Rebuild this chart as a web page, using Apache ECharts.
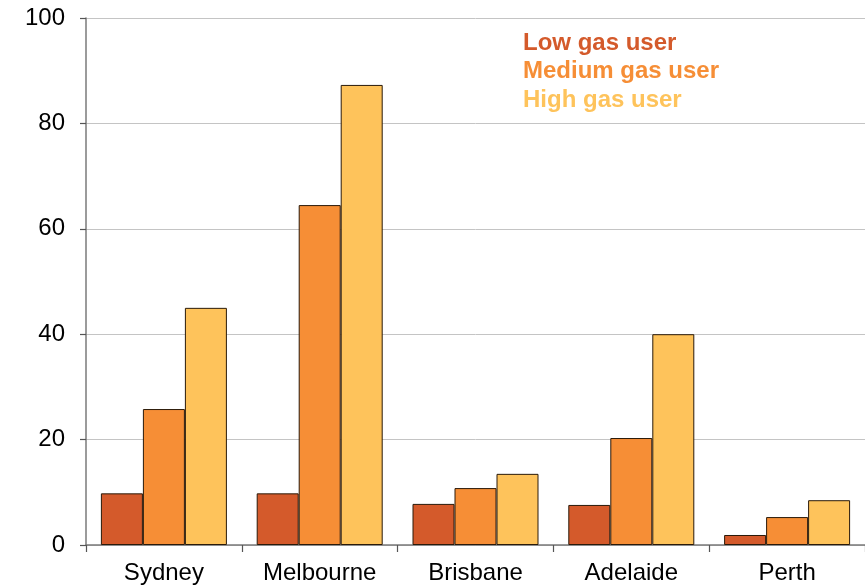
<!DOCTYPE html>
<html>
<head>
<meta charset="utf-8">
<script src="https://cdn.jsdelivr.net/npm/echarts@6/dist/echarts.min.js"></script>
<style>html,body{margin:0;padding:0;background:#fff}#c{width:865px;height:585px}</style>
</head>
<body>
<div id="c"></div>
<script>
const categories = ['Sydney', 'Melbourne', 'Brisbane', 'Adelaide', 'Perth'];
const seriesNames = ['Low gas user', 'Medium gas user', 'High gas user'];
const lowValues = [9.8, 9.8, 7.8, 7.6, 1.9];
const mediumValues = [25.8, 64.5, 10.8, 20.3, 5.3];
const highValues = [45.0, 87.3, 13.5, 40.0, 8.5];
const yTicks = [0, 20, 40, 60, 80, 100];
const colors = ['#D45A2B', '#F68E36', '#FEC35B'];

const chart = echarts.init(document.getElementById('c'));
const values = [lowValues, mediumValues, highValues];
chart.setOption({
  animation: false,
  grid: { left: 86, top: 18, width: 780, height: 527, containLabel: false },
  legend: {
    orient: 'vertical', left: 518, top: 29, icon: 'none', itemWidth: 0, itemHeight: 10, itemGap: 0,
    padding: 0, selectedMode: false,
    data: seriesNames.map((n, i) => ({ name: n, textStyle: { color: colors[i] } })),
    textStyle: { fontFamily: 'Liberation Sans, Arial', fontSize: 24, fontWeight: 'bold', lineHeight: 28.5 }
  },
  xAxis: {
    type: 'category', data: categories,
    axisLine: { lineStyle: { color: '#7a7a7a', width: 1.5 } },
    axisTick: { show: true, alignWithLabel: false, length: 7, lineStyle: { color: '#555', width: 1.2 } },
    axisLabel: { color: '#000', fontFamily: 'Liberation Sans, Arial', fontSize: 24, margin: 16 }
  },
  yAxis: {
    type: 'value', min: 0, max: 100, interval: 20,
    axisLine: { show: true, lineStyle: { color: '#7a7a7a', width: 1.5 } },
    axisTick: { show: true, length: 6, lineStyle: { color: '#555', width: 1.2 } },
    splitLine: { lineStyle: { color: '#c4c4c4', width: 1 } },
    axisLabel: { color: '#000', fontFamily: 'Liberation Sans, Arial', fontSize: 24, margin: 21,
      formatter: v => yTicks.includes(v) ? String(v) : '' }
  },
  series: seriesNames.map((n, i) => ({
    name: n, type: 'bar', data: values[i], barWidth: 42, barGap: '0%',
    itemStyle: { color: colors[i], borderColor: '#2a1a0a', borderWidth: 1 }
  }))
});
</script>
</body>
</html>
